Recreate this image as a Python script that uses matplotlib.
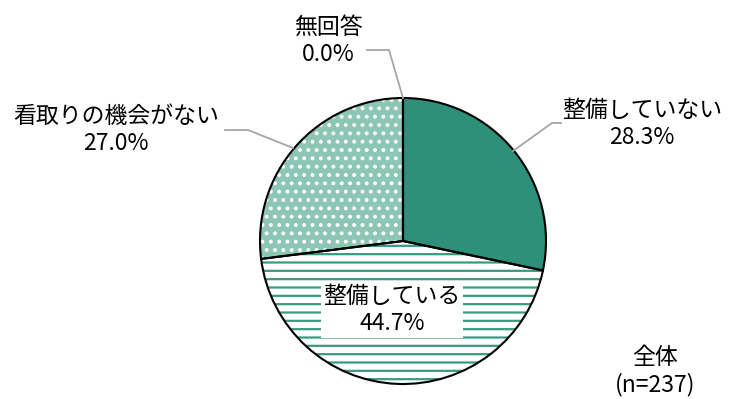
import numpy as np
import matplotlib
matplotlib.use('Agg')
import matplotlib.pyplot as plt

plt.rcParams['font.family'] = ['Noto Sans CJK JP', 'DejaVu Sans']
plt.rcParams['hatch.linewidth'] = 1.6

# data
labels = ['整備していない', '整備している', '看取りの機会がない', '無回答']
values = [28.3, 44.7, 27.0, 0.0]
total_label = '全体\n(n=237)'

green = '#2f9079'
face_colors = [green, 'white', '#8cc6b4', 'white']
hatch_colors = [green, '#3a9a80', 'white', 'white']
hatches = [None, '--', '..', None]

fig = plt.figure(figsize=(7.3, 3.99), dpi=100)
# pie centre (403, 241) px, radius 143 px
cx, cy, r = 403, 241, 143
ax = fig.add_axes([(cx - r) / 730, (399 - cy - r) / 399, 2 * r / 730, 2 * r / 399])

# filled wedges (hatch colour comes from edge colour), outline drawn separately
wedges, _ = ax.pie(values, startangle=90, counterclock=False, radius=1,
                   wedgeprops=dict(linewidth=0))
for w, fc, hc, h in zip(wedges, face_colors, hatch_colors, hatches):
    w.set_facecolor(fc)
    w.set_edgecolor(hc)
    if h:
        w.set_hatch(h)

ax.pie(values, startangle=90, counterclock=False, radius=1,
       wedgeprops=dict(facecolor='none', edgecolor='black', linewidth=1.5))

ax.set_xlim(-1, 1)
ax.set_ylim(-1, 1)
ax.set_aspect('equal')
ax.axis('off')


def d(px, py):
    return (px - cx) / r, (cy - py) / r


fs = 16.5
gray = '#a6a6a6'

# leader lines
lines = [
    [(513, 151), (552, 123), (561, 123)],
    [(403, 98), (389, 50), (367, 50)],
    [(293, 148), (248, 130), (225, 130)],
]
for pts in lines:
    xs, ys = zip(*[d(*p) for p in pts])
    ax.plot(xs, ys, color=gray, lw=1.3, clip_on=False)

pcts = ['%.1f%%' % v for v in values]
pos = [(642, 124), (392, 310), (116, 130), (328, 41)]
for i, (lab, pct) in enumerate(zip(labels, pcts)):
    x, y = d(*pos[i])
    kw = {}
    if i == 1:
        kw['bbox'] = dict(facecolor='white', edgecolor='none', pad=2)
    ax.text(x, y, lab + '\n' + pct, ha='center', va='center', fontsize=fs,
            linespacing=1.2, clip_on=False, **kw)

fig.text(655 / 730, 1 - 371 / 399, total_label, ha='center', va='center',
         fontsize=fs, linespacing=1.2)

fig.savefig('out.png', dpi=100)
